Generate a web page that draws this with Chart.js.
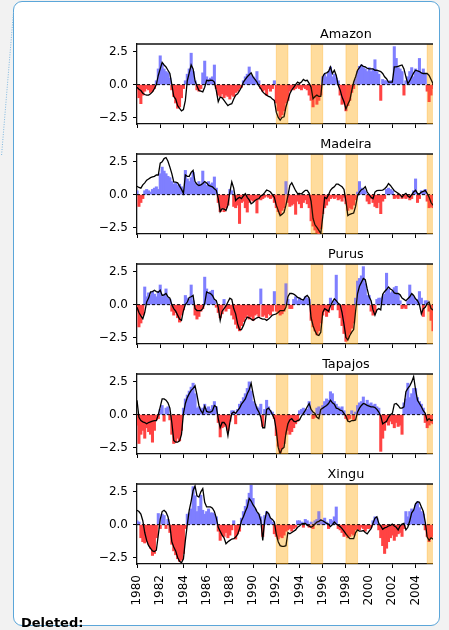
<!DOCTYPE html>
<html>
<head>
<meta charset="utf-8">
<script src="https://cdn.jsdelivr.net/npm/chart.js@4.4.1/dist/chart.umd.min.js"></script>
<style>
  html, body { margin: 0; padding: 0; }
  body { width: 449px; height: 630px; background: #f2f2f2; position: relative; overflow: hidden; }
  #card { position: absolute; left: 13px; top: 1px; width: 425px; height: 623px;
          border: 1.5px solid #5ba6d9; border-radius: 9px; background: #fff; }
  #dots { position: absolute; left: 0; top: 0; }
  #plots { position: absolute; left: 0; top: 0; width: 433px; height: 630px; overflow: hidden; }
  #plots canvas { position: absolute; left: 60px; }
  #deleted { position: absolute; left: 21px; top: 615px; line-height: 13px;
             font: bold 13px "DejaVu Sans", sans-serif; color: #000; }
</style>
</head>
<body>
<div id="card"></div>
<svg id="dots" width="20" height="170">
  <line x1="13.5" y1="12" x2="1.5" y2="156" stroke="#7db7e0" stroke-width="1" stroke-dasharray="1 1.5"/>
</svg>
<div id="plots">
  <canvas id="p0" width="402" height="112" style="top:18px"></canvas>
  <canvas id="p1" width="402" height="112" style="top:128px"></canvas>
  <canvas id="p2" width="402" height="112" style="top:238px"></canvas>
  <canvas id="p3" width="402" height="112" style="top:348px"></canvas>
  <canvas id="p4" width="402" height="158" style="top:458px"></canvas>
</div>
<div id="deleted">Deleted:</div>

<script>
// ----------------------
// DATA (two-month samples from Jan 1980)
// ----------------------
const START_YEAR = 1980;
const STEP = 1 / 6;

const rivers = ['Amazon', 'Madeira', 'Purus', 'Tapajos', 'Xingu'];

const amazonBars = [
  -0.4, -1.0, -1.45, -0.8, -0.5, -0.3,  -0.4, -0.6, -0.5, -0.3, 0.3, 1.2,
  2.2, 1.6, 1.2, 1.0, 0.9, 0.5,  -0.4, -0.9, -1.4, -1.8, -1.7, -1.0,
  -0.3, 0.3, 0.8, 1.2, 2.4, 1.0,  0.3, -0.4, -0.5, -0.3, 0.9, 1.8,
  0.6, 0.4, 0.5, 0.6, 1.5, -0.3,  -0.8, -0.9, -0.7, -1.0, -0.8, -0.9,
  -1.1, -0.8, -0.9, -0.6, -0.5, -0.3,  -0.2, 0.3, 0.6, 0.8, 1.35, 0.7,
  0.6, 0.4, 1.0, 0.3, -0.3, -0.5,  -0.4, -0.8, -0.3, -0.5, -0.3, 0.3,
  -1.4, -2.0, -2.5, -2.3, -2.0, -1.4,  -1.2, -0.5, -0.3, -0.4, -0.3, -0.2,
  -0.3, -0.4, -0.2, -0.3, -0.4, -0.8,  -1.2, -1.7, -1.0, -1.5, -1.2, -0.8,
  0.6, 0.8, 0.6, 1.0, 1.35, 0.6,  0.8, 0.5, 0.3, -0.8, -1.5, -1.4,
  -2.0, -1.6, -1.2, -0.6, -0.3, 0.4,  1.0, 1.4, 1.5, 1.3, 1.2, 1.0,
  1.3, 1.0, 1.2, 1.9, 1.0, 0.8,  -1.2, 0.4, 0.3, 0.3, 0.2, 0.3,
  0.3, 2.9, 2.0, 1.3, 1.2, 1.0,  -0.8, 0.3, 0.6, 1.0, 1.3, 0.6,
  1.2, 1.0, 2.0, 0.9, 1.2, 0.8,  -0.5, -1.3, -0.8, -0.3, -0.3
];
const amazonLine = [
  -0.2, -0.35, -0.45, -0.65, -0.75, -0.8,  -0.8, -0.7, -0.55, -0.3, 0.0, 0.7,
  1.2, 1.7, 1.5, 1.35, 1.1, 0.85,  0.0, -0.9, -1.1, -1.6, -1.8, -2.0,
  -1.9, -1.2, 0.3, 0.9, 1.5, 1.2,  0.3, -0.1, -0.45, -0.5, -0.55, -0.2,
  0.33, 0.3, 0.35, 0.33, 0.2, -0.45,  -1.3, -0.95, -1.0, -1.2, -1.4, -1.6,
  -1.5, -1.45, -1.1, -0.8, -0.7, -0.45,  -0.2, 0.2, 0.4, 0.6, 0.75, 0.9,
  0.6, 0.4, 0.2, -0.1, -0.3, -0.55,  -0.7, -0.8, -0.9, -0.95, -1.1, -1.2,
  -2.1, -2.5, -2.7, -2.5, -2.45, -1.7,  -1.2, -0.7, -0.4, -0.2, 0.0, 0.2,
  0.1, 0.2, 0.4, 0.3, 0.33, 0.1,  -0.2, -1.07, -0.9, -0.8, -0.9, -0.9,
  0.6, 0.85, 0.9, 1.0, 1.35, 0.85,  1.1, 0.7, -0.05, -0.4, -0.95, -1.3,
  -1.85, -1.5, -1.2, -0.45, 0.2, 0.6,  1.1, 1.3, 1.5, 1.4, 1.35, 1.25,
  1.2, 1.2, 1.2, 1.1, 1.1, 1.05,  1.0, 0.85, 0.6, 0.45, 0.2, 0.2,
  0.2, 1.35, 1.35, 1.4, 1.45, 1.5,  1.2, 0.6, 0.08, 0.3, 0.6, 0.9,
  1.1, 1.05, 1.0, 0.9, 0.85, 0.85,  0.85, 0.7, 0.4, 0.08, -0.2
];

const madeiraBars = [
  0.3, -0.9, -0.6, -0.3, 0.3, 0.4,  0.3, 0.2, 0.4, 0.5, 0.6, 0.4,
  1.6, 2.1, 1.8, 1.6, 1.4, 1.3,  1.0, 0.8, 0.9, 0.7, 0.8, 0.6,
  0.3, 1.85, 1.2, 1.0, 1.3, 1.7,  0.9, 0.7, 1.0, 0.8, 1.8, 0.9,
  0.7, 1.0, 0.8, 0.9, 1.35, 0.5,  -0.6, -1.3, -1.0, -1.3, -1.0, -0.8,
  0.4, 0.3, -0.9, -1.0, -0.8, -2.2,  -0.6, -0.5, -1.0, -1.33, -0.6, -0.4,
  -0.5, -0.4, -1.4, -0.3, -0.4, -0.3,  -0.2, -0.1, -0.2, -0.3, -0.2, -0.6,
  -1.0, -1.3, -1.5, -1.2, -1.0, 1.0,  -0.6, -0.9, -0.8, -0.7, -1.5, -0.5,
  -0.7, -1.0, -0.6, -0.4, -0.7, -1.0,  -2.0, -2.4, -2.7, -2.9, -3.0, -2.6,
  -1.45, -1.0, -0.8, -0.5, -0.3, -0.2,  -0.3, -0.2, -0.4, -0.3, -0.5, -0.2,
  -0.7, -1.2, -1.0, -1.1, -0.8, -0.4,  0.2, 1.0, 0.5, 0.4, 0.3, -0.5,
  -0.7, -0.3, -0.6, -0.9, -1.0, -0.6,  -1.45, -0.5, -0.3, 0.4, 0.5, 0.4,
  0.3, -0.3, -0.2, -0.3, -0.1, -0.3,  -0.2, -0.3, -0.2, -0.4, -0.3, 0.3,
  1.2, -0.6, -0.3, 0.3, 0.2, 0.4,  -0.5, -1.0, -0.9, -1.0, -1.1
];
const madeiraLine = [
  0.64, 0.55, 0.5, 0.75, 0.9, 1.1,  1.2, 1.3, 1.35, 1.4, 1.5, 1.5,
  2.4, 2.5, 2.75, 2.83, 2.55, 2.1,  1.6, 0.97, 0.95, 0.9, 0.65, 0.4,
  0.1, 1.5, 1.4, 1.4, 1.7, 1.85,  1.0, 0.8, 0.7, 0.75, 0.85, 1.0,
  0.9, 0.7, 0.65, 0.6, 0.45, 0.33,  -0.3, -1.3, -1.07, -1.1, -1.2, -0.8,
  0.2, 0.97, 0.5, -0.45, -0.3, -0.2,  -0.3, -0.1, 0.08, -0.2, -0.4, -0.7,
  -0.6, -0.45, -0.35, -0.3, -0.1, -0.02,  0.15, 0.35, 0.3, 0.2, 0.0, -0.2,
  -0.8, -1.2, -1.6, -1.5, -1.35, -0.8,  -0.1, 0.7, 0.9, 0.6, 0.3, 0.08,
  0.1, 0.05, 0.2, 0.33, 0.33, 0.1,  -0.5, -1.8, -2.3, -2.5, -2.73, -2.97,
  -1.7, -0.2, -0.3, 0.0, 0.33, 0.5,  0.6, 0.8, 0.8, 0.7, 0.6, 0.4,
  -0.5, -1.6, -1.5, -1.45, -1.4, -0.9,  -0.1, 0.2, 0.38, 0.45, 0.6, 0.2,
  0.0, -0.2, -0.3, 0.2, 0.3, 0.33,  0.33, 0.35, 0.45, 0.6, 0.85, 0.7,
  0.5, 0.3, 0.2, 0.1, 0.0, -0.2,  0.0, 0.1, -0.1, -0.2, 0.0, 0.2,
  0.33, 0.1, 0.05, 0.2, 0.25, 0.33,  0.1, -0.2, -0.6, -0.8, -0.9
];

const purusBars = [
  -0.5, -1.7, -1.4, -0.8, 1.35, 0.6,  0.9, 0.7, 1.0, 0.8, 0.6, 1.0,
  1.5, 0.6, 0.8, 1.2, 0.5, 0.4,  -0.5, -0.8, -0.6, -1.0, -1.33, -0.8,
  -0.4, 0.7, 0.5, 0.4, 1.5, 0.3,  -0.8, -1.1, -0.9, -0.5, -0.3, 2.1,
  1.2, 0.9, 1.0, 1.1, 0.3, -0.2,  -0.6, -1.0, -0.7, 0.4, -0.5, -0.3,
  -0.3, -0.8, -1.1, -1.5, -1.8, -2.0,  -1.6, -1.3, -1.0, -0.8, -1.1, -0.9,
  -1.2, -0.8, -0.7, -0.9, 1.2, -0.9,  -0.8, -1.0, -0.7, -0.8, -0.5, 1.0,
  -0.5, -0.6, -0.8, -0.7, -0.5, 1.6,  0.4, -0.3, -0.3, 0.4, 0.6, 0.3,
  0.5, 0.3, 0.4, 0.6, 0.5, 0.4,  -1.2, -1.7, -2.0, -2.3, -2.0, -1.4,
  -0.8, -0.5, -0.9, -0.6, 0.5, -0.4,  0.3, 2.25, -0.4, -1.0, -1.6, -2.2,
  -2.8, -2.6, -2.2, -1.8, -1.4, 0.5,  1.8, 2.0, 2.2, 2.9, 1.6, 0.7,
  0.7, -0.5, -0.8, -0.6, 0.4, 0.5,  0.5, 0.6, 0.8, 2.4, 1.2, 0.9,
  1.0, 1.3, 1.4, 0.8, 0.3, -0.3,  -0.2, -0.3, 0.3, 1.5, 0.8, 0.6,
  0.3, 0.4, 1.0, 0.5, -0.9, 0.3,  0.3, -0.5, -1.2, -2.0, -1.8
];
const purusLine = [
  -0.2, -0.6, -0.85, -1.07, -0.6, 0.2,  0.5, 0.97, 1.0, 1.1, 1.0, 0.95,
  1.1, 0.7, 0.75, 0.85, 0.6, 0.5,  0.0, -0.3, -0.5, -0.8, -1.1, -1.2,
  -0.45, 0.0, 0.2, 0.55, 0.6, 0.7,  -0.3, -0.45, -0.45, -0.45, -0.3, 0.1,
  0.97, 0.9, 0.85, 0.7, 0.4, 0.3,  -0.2, -1.2, -0.5, -0.3, -0.1, 0.2,
  0.5, 0.4, -0.3, -0.7, -1.45, -1.9,  -1.9, -1.6, -1.2, -0.95, -1.0, -1.1,
  -1.2, -1.1, -1.0, -0.95, -1.05, -1.1,  -1.1, -1.2, -1.1, -0.95, -0.8, -0.75,
  -0.7, -0.6, -0.45, -0.45, -0.45, -0.2,  0.6, 0.85, 0.85, 0.8, 0.7, 0.55,
  0.5, 0.4, 0.35, 0.6, 0.7, 0.5,  -1.0, -1.6, -2.0, -2.3, -2.35, -2.1,
  -0.6, -0.3, -0.4, -0.5, -0.1, 0.2,  0.45, 0.3, 0.1, 0.0, -0.6, -1.5,
  -2.5, -2.7, -2.35, -2.1, -1.9, -0.5,  0.85, 1.4, 1.7, 2.0, 1.9, 1.2,
  0.6, 0.3, -0.4, -0.8, -0.4, -0.3,  -0.4, 0.8, 1.0, 1.15, 1.35, 1.2,
  1.1, 0.9, 0.85, 0.85, 0.75, 0.5,  0.4, 0.3, 0.45, 0.6, 0.85, 0.7,
  0.45, 0.3, 0.0, -0.7, -0.3, -0.2,  0.1, 0.2, -0.3, -0.4, -0.45
];

const tapajosBars = [
  -0.8, -2.2, -1.5, -1.2, -1.8, -1.0,  -1.3, -1.5, -2.1, -1.2, -0.4, -0.3,
  0.4, 0.7, -0.5, 0.5, 0.6, -0.4,  -1.5, -2.2, -2.1, -1.8, -2.0, -1.2,
  0.5, 1.2, 1.5, 1.8, 2.1, 2.4,  1.6, 0.5, 0.6, 0.4, 0.5, 0.8,
  0.5, 0.6, 0.4, 0.7, 1.0, 0.6,  -0.6, -1.7, -1.0, -0.9, -0.8, -1.2,
  -0.5, 0.3, 0.3, -0.7, 0.4, 0.8,  1.0, 1.3, 1.6, 2.0, 2.5, 1.8,
  1.0, 0.8, 0.6, 0.5, 0.8, -0.9,  0.4, 1.1, 0.6, 0.3, 0.2, -0.3,
  -1.6, -2.4, -2.9, -2.6, -2.2, -1.5,  -1.2, -1.5, -1.3, -1.0, -0.7, -0.5,
  0.3, 0.4, 0.5, 0.3, 0.4, 1.0,  0.3, -0.3, -0.2, 0.5, 0.6, 0.4,
  0.7, 1.0, 1.2, 1.1, 1.75, 1.6,  1.0, 0.8, 0.6, 0.5, 0.6, 0.3,
  -0.3, -0.4, -0.3, 0.3, -0.4, 0.2,  0.7, 0.9, 1.0, 1.35, 0.8, 1.1,
  0.8, 0.9, 0.7, 0.8, 0.6, 0.5,  -2.8, -1.8, -1.2, -0.6, -0.8, -0.5,
  -0.7, -1.0, -0.6, -0.9, -0.8, -1.5,  0.9, 1.2, 2.4, 1.3, 1.6, 2.0,
  2.0, 1.3, 1.0, 0.8, 0.5, -0.6,  -1.0, -0.8, -0.6, -0.7, -0.5
];
const tapajosLine = [
  1.1, -0.2, -0.45, -0.55, -0.6, -0.7,  -0.6, -0.55, -0.5, -0.45, -0.45, 0.0,
  0.6, 1.2, 1.2, 1.1, 0.9, 0.5,  -0.6, -1.96, -2.1, -2.1, -2.0, -1.5,
  0.1, 0.85, 1.3, 1.6, 1.85, 2.0,  2.2, 1.5, 0.7, 0.3, 0.1, 0.65,
  0.25, 0.2, 0.2, 0.3, 0.7, 0.6,  -0.3, -1.0, -0.6, -0.6, -0.8, -1.6,
  -0.6, 0.1, 0.2, 0.1, 0.3, 0.5,  0.8, 1.0, 1.2, 1.6, 1.9, 2.4,
  1.6, 0.9, 0.46, 0.2, -0.2, -1.0,  -1.0, 0.4, 0.5, 0.3, 0.0, -0.3,
  -1.2, -2.5, -2.97, -2.6, -2.5, -1.4,  -0.7, -0.4, -0.3, -0.5, -0.55, -0.45,
  -0.4, -0.1, 0.1, 0.33, 0.6, 0.85,  0.4, 0.2, 0.1, -0.2, -0.3, 0.4,
  0.5, 0.6, 0.7, 0.85, 1.1, 0.9,  0.8, 0.5, 0.45, 0.35, 0.3, 0.1,
  -0.1, -0.5, -0.55, -0.45, -0.45, -0.4,  0.2, 0.5, 0.7, 0.85, 0.8, 0.7,
  0.65, 0.6, 0.6, 0.55, 0.4, 0.2,  -0.1, -0.7, -0.6, -0.5, -0.2, 0.0,
  0.1, 0.8, 0.85, 0.7, 0.5, 0.5,  0.6, 1.75, 2.0, 2.2, 2.5, 2.9,
  1.9, 1.1, 0.85, 0.6, 0.3, 0.1,  -0.45, -0.3, -0.45, -0.4, -0.3
];

const xinguBars = [
  0.3, 0.2, -1.0, -1.3, -1.4, -1.3,  -1.5, -1.8, -2.35, -2.2, -1.0, 0.85,
  -0.3, 0.8, 0.7, -0.3, 0.4, -0.6,  -1.5, -2.0, -2.3, -2.6, -2.8, -2.7,
  -2.2, -0.3, 0.8, 0.9, 1.2, 2.9,  2.2, 1.0, 1.4, 2.25, 1.1, 0.8,
  1.0, 1.2, 0.9, 0.9, 0.8, 0.6,  -0.5, -1.2, -0.8, -0.9, -0.6, -1.0,
  -0.8, -0.4, 0.3, -1.1, -0.7, -0.5,  0.5, 1.0, 1.4, 1.9, 2.4, 3.0,
  2.0, 1.2, 0.9, 0.8, 0.6, -0.9,  0.7, 1.0, 0.8, 0.4, 0.2, -0.7,
  -0.9, -1.1, -0.9, -1.0, -0.8, -0.5,  -0.4, -0.3, -0.5, -0.3, -0.2, 0.3,
  0.3, 0.2, -0.2, 0.4, 0.3, -0.2,  0.2, -0.3, 0.3, 0.4, 1.0, 0.4,
  0.3, 0.5, 0.2, -0.3, 0.4, 0.3,  0.6, 1.35, -0.3, -0.4, -0.6, -0.9,
  -0.8, -1.0, -0.9, -0.7, -0.8, -0.4,  -0.3, -0.4, -0.2, -0.3, -0.5, -0.3,
  -0.3, -0.2, 0.3, 0.6, 0.5, -0.4,  -1.0, -1.6, -2.2, -1.8, -1.3, -1.0,
  -0.8, -1.2, -0.9, -0.7, -0.6, -0.9,  -0.3, 1.0, 0.6, 1.0, 1.2, 1.0,
  1.5, 1.75, 1.3, 1.0, 0.8, -0.4,  -0.9, -1.3, -1.0, -0.9, -1.2
];
const xinguLine = [
  1.1, 1.0, 0.8, 0.3, -0.6, -1.2,  -1.6, -1.8, -2.0, -2.05, -1.95, -0.8,
  0.4, 1.0, 1.1, 0.95, 0.6, -0.1,  -1.3, -1.7, -2.0, -2.5, -2.8, -2.9,
  -2.6, -1.2, 0.0, 1.1, 1.8, 2.6,  2.95, 2.2, 2.1, 2.5, 2.75, 1.7,
  1.35, 1.35, 1.35, 1.25, 1.0, 0.5,  -0.2, -0.5, -0.8, -1.0, -1.45, -1.3,
  -1.2, -1.1, -1.07, -0.95, -0.75, -0.3,  0.3, 0.6, 1.0, 1.35, 2.0, 1.8,
  1.5, 1.3, 1.0, 0.8, 0.3, -1.2,  0.3, 0.97, 0.85, 0.5, 0.4, 0.2,
  -0.7, -1.3, -1.6, -1.65, -1.65, -1.6,  -0.6, -0.7, -0.6, -0.5, -0.4, -0.2,
  -0.1, 0.05, 0.1, 0.1, -0.05, -0.1,  -0.2, -0.1, 0.05, 0.2, 0.25, 0.35,
  0.3, 0.2, 0.1, 0.05, -0.15, 0.0,  0.2, 0.05, -0.05, -0.15, -0.3, -0.5,
  -0.7, -0.9, -1.07, -1.07, -1.07, -0.6,  -0.4, -0.5, -0.5, -0.45, -0.6, -0.7,
  -0.5, -0.3, 0.1, 0.5, 0.6, 0.1,  -0.1, -0.35, -0.25, -0.2, -0.1, -0.05,
  0.05, -0.1, -0.2, -0.4, -0.1, 0.05,  0.1, -0.4, -0.2, 0.3, 0.9, 1.1,
  1.6, 1.75, 1.7, 1.35, 1.0, 0.2,  -0.95, -1.2, -1.0, -1.1, -1.1
];

const barSeries = [amazonBars, madeiraBars, purusBars, tapajosBars, xinguBars];
const lineSeries = [amazonLine, madeiraLine, purusLine, tapajosLine, xinguLine];

// shaded years
const drySpans = [[1992, 1993], [1995, 1996], [1998, 1999], [2005, 2006]];

const yTicks = [-2.5, 0, 2.5];
const Y_MIN = -3.0, Y_MAX = 3.1;
const X_MIN = 1980, X_MAX = 2008, X_STEP = 2;

// ----------------------
// STYLE
// ----------------------
const BLUE = '#7f7fff';
const RED = '#ff4343';
const BAND = 'rgba(255, 165, 0, 0.3)';
const FONT = '"DejaVu Sans", sans-serif';
const TITLE_CENTER_YEAR = 1998;

const toPoints = arr => arr.map((v, i) => ({ x: START_YEAR + i * STEP, y: v }));
const fmtY = v => v.toFixed(1).replace('-', '\u2212');

const panelDecor = {
  id: 'panelDecor',
  beforeDatasetsDraw(chart) {
    const { ctx, chartArea: a, scales: { x } } = chart;
    ctx.save();
    ctx.beginPath();
    ctx.rect(a.left, a.top, a.right - a.left, a.bottom - a.top);
    ctx.clip();
    ctx.fillStyle = BAND;
    ctx.strokeStyle = BAND;
    ctx.lineWidth = 1;
    drySpans.forEach(([s, e]) => {
      const x0 = x.getPixelForValue(s);
      const x1 = x.getPixelForValue(e);
      ctx.fillRect(x0, a.top, x1 - x0, a.bottom - a.top);
      ctx.strokeRect(x0, a.top, x1 - x0, a.bottom - a.top);
    });
    ctx.restore();
  },
  afterDatasetsDraw(chart) {
    // light orange wash over the bars inside the shaded years
    const { ctx, chartArea: a, scales: { x } } = chart;
    ctx.save();
    ctx.fillStyle = 'rgba(255, 165, 0, 0.12)';
    drySpans.forEach(([s, e]) => {
      const x0 = x.getPixelForValue(s);
      const x1 = Math.min(x.getPixelForValue(e), a.right);
      ctx.fillRect(x0, a.top, x1 - x0, a.bottom - a.top);
    });
    ctx.restore();
  },
  afterDraw(chart) {
    const { ctx, chartArea: a, scales: { x } } = chart;
    ctx.save();
    ctx.strokeStyle = '#111';
    ctx.lineWidth = 1.3;
    ctx.beginPath();
    ctx.moveTo(a.left, a.top);
    ctx.lineTo(a.right, a.top);
    ctx.stroke();
    ctx.fillStyle = '#000';
    ctx.font = '12.8px ' + FONT;
    ctx.textAlign = 'center';
    ctx.textBaseline = 'alphabetic';
    ctx.fillText(chart.options.panelTitle, x.getPixelForValue(TITLE_CENTER_YEAR), a.top - 6.5);
    ctx.restore();
  }
};

const makePanel = (idx) => {
  const showLabels = idx === rivers.length - 1;
  const bars = barSeries[idx];
  return new Chart(document.getElementById('p' + idx), {
    type: 'bar',
    data: {
      datasets: [
        {
          type: 'line',
          data: toPoints(lineSeries[idx]),
          borderColor: '#000',
          borderWidth: 1.3,
          pointRadius: 0,
          tension: 0,
          order: 0
        },
        {
          type: 'line',
          data: [{ x: X_MIN, y: 0 }, { x: X_MAX, y: 0 }],
          borderColor: '#000',
          borderWidth: 1,
          borderDash: [3, 2],
          pointRadius: 0,
          order: 1
        },
        {
          type: 'bar',
          data: toPoints(bars),
          backgroundColor: bars.map(v => (v >= 0 ? BLUE : RED)),
          borderWidth: 0,
          barThickness: 2.4,
          order: 2
        }
      ]
    },
    options: {
      panelTitle: rivers[idx],
      responsive: false,
      animation: false,
      devicePixelRatio: 1,
      layout: { padding: { top: 26, left: 0, right: 0, bottom: 0 } },
      plugins: { legend: { display: false }, tooltip: { enabled: false } },
      scales: {
        x: {
          type: 'linear',
          min: X_MIN,
          max: X_MAX,
          offset: false,
          grid: { display: true, drawOnChartArea: false, drawTicks: true, tickLength: 4, color: '#000', offset: false },
          border: { display: true, color: '#111', width: 1.3 },
          ticks: {
            display: showLabels,
            stepSize: X_STEP,
            autoSkip: false,
            minRotation: 90,
            maxRotation: 90,
            padding: 7,
            color: '#000',
            font: { family: FONT, size: 12 },
            callback: v => String(v)
          },
          afterFit: s => { s.height = showLabels ? 52 : 6; s.paddingLeft = 0; s.paddingRight = 0; }
        },
        y: {
          min: Y_MIN,
          max: Y_MAX,
          afterBuildTicks: s => { s.ticks = yTicks.map(v => ({ value: v })); },
          grid: { display: true, drawOnChartArea: false, drawTicks: true, tickLength: 4, color: '#000' },
          border: { display: true, color: '#111', width: 1.3 },
          ticks: { padding: 5, color: '#000', font: { family: FONT, size: 12 }, callback: v => fmtY(v) },
          afterFit: s => { s.width = 77; s.paddingTop = 0; s.paddingBottom = 0; }
        }
      }
    },
    plugins: [panelDecor]
  });
};

rivers.forEach((_, i) => makePanel(i));
</script>
</body>
</html>
